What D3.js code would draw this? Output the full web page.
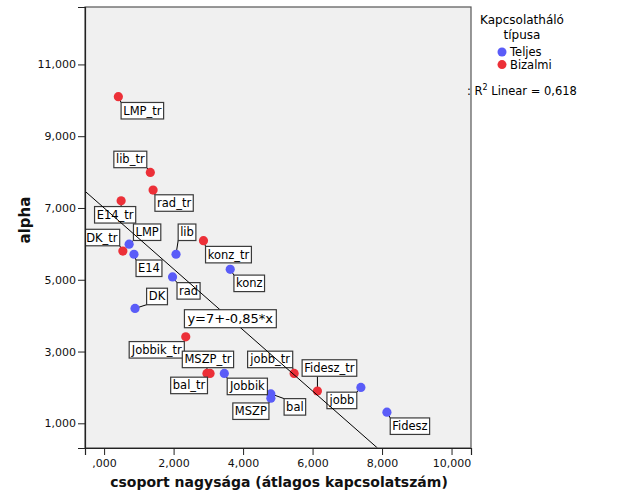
<!DOCTYPE html>
<html>
<head>
<meta charset="utf-8">
<script src="https://cdn.jsdelivr.net/npm/d3@7"></script>
<style>
  body { margin: 0; background: #fff; }
  svg { display: block; }
  text { font-family: "DejaVu Sans", sans-serif; }
</style>
</head>
<body>
<svg id="chart" width="629" height="504"></svg>
<script>
// ---------------- data ----------------
const names = ["LMP_tr","lib_tr","rad_tr","E14_tr","DK_tr","konz_tr","Jobbik_tr","MSZP_tr","bal_tr","jobb_tr","Fidesz_tr",
               "LMP","E14","lib","rad","konz","DK","Jobbik","MSZP","bal","jobb","Fidesz"];
const groupSize = [0.41,1.33,1.41,0.49,0.54,2.86,2.35,2.96,3.05,5.47,6.14,
                   0.72,0.86,2.07,1.97,3.63,0.89,3.46,4.80,4.80,7.39,8.14];
const alphaVals = [10.10,7.99,7.50,7.20,5.80,6.09,3.41,2.39,2.39,2.39,1.90,
                   5.99,5.71,5.71,5.08,5.29,4.20,2.39,1.70,1.82,2.00,1.31];
const netType   = ["Bizalmi","Bizalmi","Bizalmi","Bizalmi","Bizalmi","Bizalmi","Bizalmi","Bizalmi","Bizalmi","Bizalmi","Bizalmi",
                   "Teljes","Teljes","Teljes","Teljes","Teljes","Teljes","Teljes","Teljes","Teljes","Teljes","Teljes"];
// label offsets (px) from each point
const labelOffsets = [[24,14],[-20,-13],[21,13],[-6,14],[-21,-13.5],[25,14],[-29,13],[1,-14],[-21,12],[-24,-14],[12,-23],
                      [18,-12],[15,14],[11,-22],[16,14],[19,14],[22,-12],[23,13],[-20,13],[24,13],[-19,13],[23,14]];
const legendTypes = ["Teljes","Bizalmi"];
const fitIntercept = 7, fitSlope = -0.85, r2Text = "0,618";
const xTicks = [0,2,4,6,8,10];
const xTickLabels = [",000","2,000","4,000","6,000","8,000","10,000"];
const yTicks = [1,3,5,7,9,11];
const yTickLabels = ["1,000","3,000","5,000","7,000","9,000","11,000"];

// ---------------- layout ----------------
const svg = d3.select("#chart");
const L = 85, R = 471, T = 7, B = 448;
const x = d3.scaleLinear().domain([-0.55, 10.56]).range([L, R]);
const y = d3.scaleLinear().domain([0.312, 12.6]).range([B, T]);
const color = d3.scaleOrdinal().domain(legendTypes).range(["#5a5cf8", "#ec3038"]);

svg.append("defs").append("clipPath").attr("id","plotclip")
  .append("rect").attr("x",L).attr("y",T).attr("width",R-L).attr("height",B-T);

svg.append("rect").attr("x",L).attr("y",T).attr("width",R-L).attr("height",B-T)
  .attr("fill","#f0f0f0");

const pts = names.map((n,i)=>({name:n, gx:groupSize[i], a:alphaVals[i], t:netType[i], off:labelOffsets[i]}));

const g = svg.append("g").attr("clip-path","url(#plotclip)");

const labG = g.append("g");
const leaderG = labG.append("g");
const dotG = labG.append("g");
const boxG = labG.append("g");

pts.forEach(p=>{
  p.px = x(p.gx); p.py = y(p.a);
  p.cx = p.px + p.off[0]; p.cy = p.py + p.off[1];
});

const boxes = boxG.selectAll("g").data(pts).join("g");
boxes.append("rect");
boxes.append("text")
  .attr("x", d=>d.cx).attr("y", d=>d.cy+4)
  .attr("text-anchor","middle")
  .attr("font-size","11.5px").attr("fill","#000")
  .text(d=>d.name);
boxes.each(function(d){
  const bb = d3.select(this).select("text").node().getBBox();
  d.bw = bb.width + 4; d.bh = 16.5;
  d3.select(this).select("rect")
    .attr("x", d.cx - d.bw/2).attr("y", d.cy - d.bh/2)
    .attr("width", d.bw).attr("height", d.bh)
    .attr("fill","#fff").attr("stroke","#3a3a3a").attr("stroke-width",1.2);
});

leaderG.selectAll("line").data(pts).join("line")
  .attr("x1", d=>d.px).attr("y1", d=>d.py)
  .attr("x2", d=>Math.max(d.cx-d.bw/2, Math.min(d.px, d.cx+d.bw/2)))
  .attr("y2", d=>Math.max(d.cy-d.bh/2, Math.min(d.py, d.cy+d.bh/2)))
  .attr("stroke","#000").attr("stroke-width",1);

dotG.selectAll("circle").data(pts).join("circle")
  .attr("cx", d=>d.px).attr("cy", d=>d.py).attr("r",4.6)
  .attr("fill", d=>color(d.t));

// regression line
const xEnd = (y.domain()[0]-fitIntercept)/fitSlope;
g.append("line")
  .attr("x1", x(x.domain()[0])).attr("y1", y(fitIntercept + fitSlope*x.domain()[0]))
  .attr("x2", x(xEnd)).attr("y2", y(fitIntercept + fitSlope*xEnd))
  .attr("stroke","#000").attr("stroke-width",1);

// equation label
const eqX = 3.63;
const eqG = g.append("g");
const eqText = eqG.append("text")
  .attr("x", x(eqX)).attr("y", y(fitIntercept+fitSlope*eqX)+4.5)
  .attr("text-anchor","middle").attr("font-size","13px")
  .text("y=" + fitIntercept + "+" + String(fitSlope).replace(".",",") + "*x");
const eb = eqText.node().getBBox();
eqG.insert("rect","text")
  .attr("x", eb.x-3).attr("y", y(fitIntercept+fitSlope*eqX)-9)
  .attr("width", eb.width+6).attr("height", 18)
  .attr("fill","#fff").attr("stroke","#3a3a3a").attr("stroke-width",1.2);

// frame
svg.append("rect").attr("x",L).attr("y",T).attr("width",R-L).attr("height",B-T)
  .attr("fill","none").attr("stroke","#555").attr("stroke-width",1.2);

// axes
const yAxis = d3.axisLeft(y).tickValues(yTicks).tickSize(7).tickPadding(2)
  .tickFormat((d,i)=>yTickLabels[i]);
const ya = svg.append("g").attr("transform",`translate(${L},0)`).call(yAxis);
const xAxis = d3.axisBottom(x).tickValues(xTicks).tickSize(7).tickPadding(4)
  .tickFormat((d,i)=>xTickLabels[i]);
const xa = svg.append("g").attr("transform",`translate(0,${B})`).call(xAxis);
[ya,xa].forEach(a=>{
  a.select(".domain").attr("stroke","#222").attr("stroke-width",1.2);
  a.selectAll(".tick line").attr("stroke","#222");
  a.selectAll(".tick text").attr("font-family","DejaVu Sans").attr("font-size","11px").attr("fill","#111");
});

// axis titles
svg.append("text").attr("x",279).attr("y",487).attr("text-anchor","middle")
  .attr("font-weight","bold").attr("font-size","14px").attr("fill","#111")
  .text("csoport nagysága (átlagos kapcsolatszám)");
svg.append("text").attr("transform","translate(30,220) rotate(-90)").attr("text-anchor","middle")
  .attr("font-weight","bold").attr("font-size","15px").attr("fill","#111")
  .text("alpha");

// legend
svg.append("text").attr("x",522).attr("y",24).attr("text-anchor","middle").attr("font-size","12px")
  .text("Kapcsolatháló");
svg.append("text").attr("x",522).attr("y",38.5).attr("text-anchor","middle").attr("font-size","12px")
  .text("típusa");
const lg = svg.append("g").selectAll("g").data(legendTypes).join("g")
  .attr("transform",(d,i)=>`translate(502,${52+i*12.6})`);
lg.append("circle").attr("r",4.5).attr("fill",d=>color(d));
lg.append("text").attr("x",8).attr("y",4.2).attr("font-size","11.5px").text(d=>d);

// R2 text
const r2 = svg.append("text").attr("x",467).attr("y",95).attr("font-size","11.5px");
r2.append("tspan").text(": R");
r2.append("tspan").attr("dy",-5).attr("font-size","8px").text("2");
r2.append("tspan").attr("dy",5).text(" Linear = " + r2Text);
</script>
</body>
</html>
